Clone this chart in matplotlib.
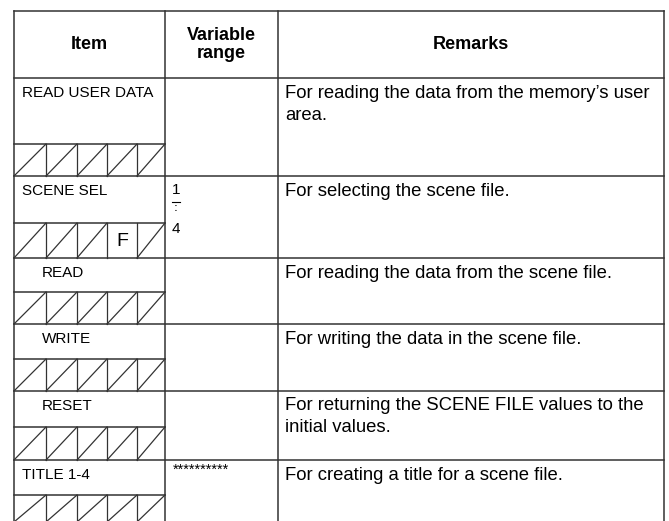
import matplotlib
matplotlib.use("Agg")
from matplotlib import pyplot as plt
from matplotlib import font_manager

# Table content
headers = ["Item", "Variable\nrange", "Remarks"]
items = ["READ USER DATA", "SCENE SEL", "READ", "WRITE", "RESET", "TITLE 1-4"]
item_indent = [False, False, True, True, True, False]
ranges = ["", "1-4", "", "", "", "**********"]
remarks = [
    ["For reading the data from the memory\u2019s user", "area."],
    ["For selecting the scene file."],
    ["For reading the data from the scene file."],
    ["For writing the data in the scene file."],
    ["For returning the SCENE FILE values to the", "initial values."],
    ["For creating a title for a scene file."],
]
# which slot of the 5-slot sawtooth holds a letter (None = all diagonals)
slot_letter = [None, (3, "F"), None, None, None, None]

# Layout (pixels)
W, H = 669, 521
col_x = [14, 165, 278, 664]
top, head_bot = 11, 78
row_bot = [176, 258, 324, 391, 460, 522]
band_top = [144, 223, 292, 359, 427, 495]
slots = [14, 46, 77, 107, 137, 165]

names = {f.name for f in font_manager.fontManager.ttflist}
narrow = "Liberation Sans Narrow" if "Liberation Sans Narrow" in names else "Liberation Sans"
item_fs = 13 if narrow == "Liberation Sans Narrow" else 11
plt.rcParams['font.family'] = ['Liberation Sans', 'DejaVu Sans']

fig = plt.figure(figsize=(W / 100, H / 100), dpi=100)
ax = fig.add_axes([0, 0, 1, 1])
ax.set_xlim(0, W)
ax.set_ylim(H, 0)
ax.axis('off')

lc = '#333333'
lw = 1.1
# outer frame and columns
ax.plot([col_x[0], col_x[-1]], [top, top], color=lc, lw=lw)
for x in col_x:
    ax.plot([x, x], [top, H + 5], color=lc, lw=lw)
ax.plot([col_x[0], col_x[-1]], [head_bot, head_bot], color=lc, lw=lw)
for yb in row_bot[:-1]:
    ax.plot([col_x[0], col_x[-1]], [yb, yb], color=lc, lw=lw)

# headers
hx = [(col_x[0] + col_x[1]) / 2, (col_x[1] + col_x[2]) / 2, (col_x[2] + col_x[3]) / 2]
for x, t in zip(hx, headers):
    ax.text(x, (top + head_bot) / 2, t, ha='center', va='center',
            fontsize=13, fontweight='bold', linespacing=1.15)

row_top = [head_bot] + row_bot[:-1]
for i, name in enumerate(items):
    yt, yb, bt = row_top[i], row_bot[i], band_top[i]
    # item name
    tx = 42 if item_indent[i] else 22
    ax.text(tx, yt + 15, name, ha='left', va='center', fontsize=item_fs,
            family=[narrow, 'DejaVu Sans'])
    # sawtooth band
    ax.plot([col_x[0], col_x[1]], [bt, bt], color=lc, lw=lw)
    for k in range(5):
        x0, x1 = slots[k], slots[k + 1]
        if slot_letter[i] is not None and slot_letter[i][0] == k:
            ax.text((x0 + x1) / 2, (bt + yb) / 2 + 1, slot_letter[i][1],
                    ha='center', va='center', fontsize=14)
        else:
            ax.plot([x0, x1], [yb, bt], color=lc, lw=0.9)
        if k < 4:
            ax.plot([x1, x1], [bt, yb], color=lc, lw=0.9)
    # remarks
    for j, line in enumerate(remarks[i]):
        ax.text(285, yt + 15 + 22 * j, line, ha='left', va='center', fontsize=13.3)
    # variable range
    r = ranges[i]
    if r == "1-4":
        ax.text(172, yt + 14, "1", ha='left', va='center', fontsize=item_fs,
                family=[narrow, 'DejaVu Sans'])
        ax.plot([172, 180], [yt + 25.5, yt + 25.5], color='black', lw=0.8)
        ax.text(176, yt + 32, ":", ha='center', va='center', fontsize=8,
                fontweight='bold', color='#444444')
        ax.text(172, yt + 53, "4", ha='left', va='center', fontsize=item_fs,
                family=[narrow, 'DejaVu Sans'])
    elif r:
        ax.text(173, yt + 10, r, ha='left', va='center', fontsize=10.5)

fig.savefig('out.png', dpi=100)
